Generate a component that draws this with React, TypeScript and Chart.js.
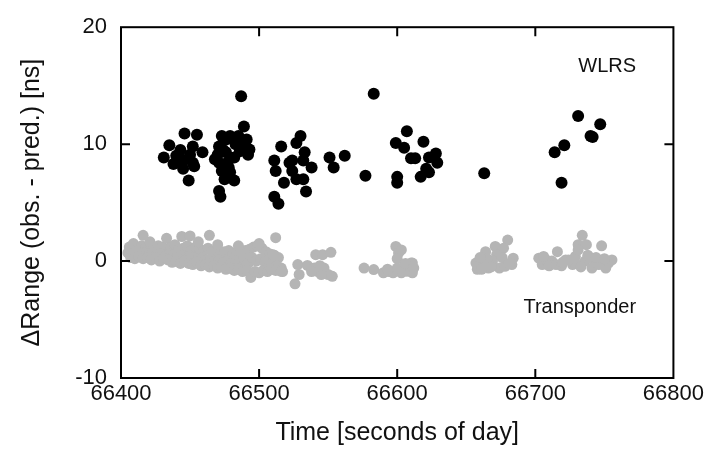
import React, { useEffect, useRef } from "react";
import { Chart, registerables } from "chart.js";

Chart.register(...registerables);

// WLRS (black)
const wlrsTime = [
  66487, 66489, 66446, 66455, 66435, 66452, 66431, 66440, 66445, 66459, 66452, 66445, 66453, 66449, 66450,
  66473, 66479, 66485, 66491, 66493, 66492, 66471, 66470, 66476, 66471, 66477, 66473, 66479, 66475, 66482,
  66482, 66486, 66471, 66472, 66474, 66478, 66468, 66483, 66488, 66476, 66443, 66438,
  66516, 66511, 66512, 66511, 66514, 66527, 66522, 66518, 66527, 66530, 66533, 66524, 66532, 66538, 66524,
  66532, 66534, 66551, 66562, 66554, 66577, 66583,
  66607, 66599, 66605, 66619, 66610, 66613, 66623, 66628, 66629, 66621, 66623, 66617, 66600, 66600,
  66663, 66714, 66721, 66719, 66731, 66747, 66740, 66741.5,
];
const wlrsRange = [
  14.1, 11.5, 10.9, 10.8, 9.9, 9.8, 8.85, 9.0, 8.6, 9.3, 8.4, 7.9, 8.1, 6.9, 9.1,
  10.7, 10.7, 10.7, 10.4, 9.55, 9.1, 9.8, 9.1, 9.3, 8.4, 8.4, 7.7, 7.6, 7.0, 6.9,
  8.85, 9.4, 6.0, 5.5, 9.5, 8.0, 8.7, 10.0, 10.2, 10.4, 9.5, 8.3,
  9.8, 8.6, 7.7, 5.5, 4.9, 10.1, 8.4, 6.7, 7.0, 10.7, 9.3, 8.6, 8.6, 8.0, 7.7,
  7.0, 5.95, 8.85, 9.0, 8.0, 7.3, 14.3,
  11.1, 10.1, 9.7, 10.2, 8.8, 8.8, 8.85, 9.2, 8.4, 7.9, 7.6, 7.2, 7.2, 6.7,
  7.5, 9.3, 9.9, 6.7, 12.4, 11.7, 10.7, 10.6,
];

// Transponder (gray)
const transTime = [
  // cluster 1 top row
  66406, 66409, 66412, 66415, 66418, 66421, 66424, 66427, 66430, 66433, 66436, 66439, 66442, 66445, 66448,
  66451, 66454, 66457, 66460, 66463, 66466, 66469, 66472, 66475, 66478, 66481, 66484, 66487, 66490, 66493,
  66496, 66499, 66502, 66505, 66508, 66511, 66514,
  // cluster 1 middle row
  66405, 66408, 66411, 66414, 66417, 66420, 66423, 66426, 66429, 66432, 66435, 66438, 66441, 66444, 66447,
  66450, 66453, 66456, 66459, 66462, 66465, 66468, 66471, 66474, 66477, 66480, 66483, 66486, 66489, 66492,
  66495, 66498, 66501, 66504, 66507, 66510, 66513, 66516,
  // cluster 1 bottom row
  66407, 66410, 66413, 66416, 66419, 66422, 66425, 66428, 66431, 66434, 66437, 66440, 66443, 66446, 66449,
  66452, 66455, 66458, 66461, 66464, 66467, 66470, 66473, 66476, 66479, 66482, 66485, 66488, 66491, 66494,
  66497, 66500, 66503, 66506, 66509, 66512, 66517,
  // cluster 1 outliers
  66416, 66444, 66450, 66464, 66456, 66512, 66510, 66470, 66485, 66500,
  // cluster 2
  66528, 66535, 66529, 66526, 66541, 66546, 66552, 66542, 66547, 66550, 66553, 66540, 66545, 66544, 66538, 66516,
  // cluster 3
  66576, 66583, 66590, 66594, 66597, 66599, 66601, 66603, 66600, 66603, 66605, 66610, 66607, 66611, 66600,
  66611, 66609, 66593, 66606, 66612,
  // cluster 4
  66657, 66658, 66664, 66671, 66680, 66677, 66672, 66684, 66683, 66666, 66674, 66678, 66662, 66669, 66661,
  66665, 66676, 66668, 66681, 66660,
  // cluster 5
  66702.5, 66705, 66716, 66712, 66722, 66729, 66734, 66731, 66737, 66731, 66727, 66736, 66741, 66741, 66748,
  66753, 66755.5, 66751, 66746, 66729, 66724, 66708, 66710, 66715, 66719, 66733, 66738, 66744, 66750, 66706, 66720,
];
const transRange = [
  1.2, 1.5, 1.1, 1.3, 1.2, 1.65, 1.1, 1.3, 1.2, 1.95, 1.2, 1.4, 1.0, 1.1, 1.3,
  0.9, 1.2, 1.0, 0.9, 1.1, 0.8, 0.9, 0.7, 0.8, 0.9, 0.6, 0.8, 0.7, 0.9, 1.0,
  1.2, 1.3, 1.1, 0.8, 0.6, 0.5, 0.3,
  0.7, 0.6, 0.8, 0.5, 0.7, 0.6, 0.7, 0.5, 0.6, 0.4, 0.6, 0.5, 0.4, 0.5, 0.3,
  0.4, 0.3, 0.2, 0.3, 0.1, 0.2, 0.0, 0.1, -0.1, 0.0, -0.2, 0.0, -0.1, 0.2, -0.2,
  0.3, 0.0, 0.2, -0.1, 0.1, -0.2, -0.4, -0.6,
  0.3, 0.2, 0.4, 0.2, 0.3, 0.1, 0.3, 0.0, 0.2, 0.1, -0.1, 0.0, -0.2, 0.0, -0.2,
  -0.3, -0.1, -0.4, -0.3, -0.5, -0.4, -0.6, -0.5, -0.7, -0.6, -0.8, -0.7, -0.9, -0.8, -1.4,
  -0.9, -1.0, -0.8, -0.9, -0.7, -0.8, -0.9,
  2.2, 2.1, 2.15, 2.2, 1.65, 2.0, 0.55, 1.4, 1.3, 1.5,
  -0.3, -0.37, -1.15, -1.95, 0.55, 0.55, 0.75, -0.87, -0.6, -1.15, -1.3, -0.6, -1.15, -0.4, -0.9, -0.87,
  -0.6, -0.73, -1.0, -0.9, -1.0, 1.25, 0.7, 0.95, 0.2, -1.0, -0.45, -0.17, -0.87, -1.0, -0.6,
  -0.17, -0.5, -0.7, -0.2, -0.6,
  -0.17, -0.7, 0.8, 1.25, 1.8, 1.1, 0.55, 0.25, -0.3, -0.6, -0.6, -0.45, -0.3, 0.0, -0.7,
  0.2, 0.3, -0.5, -0.2, 0.3,
  0.25, -0.3, 0.8, 0.0, 0.1, 0.4, 2.2, 1.4, 1.4, 0.95, -0.3, 0.0, 0.25, -0.6, 1.3,
  -0.17, 0.1, -0.6, -0.3, -0.17, 0.1, 0.1, -0.4, -0.3, -0.4, -0.5, 0.5, 0.3, 0.2, 0.4, -0.1,
];

const xMin = 66400;
const xMax = 66800;
const xStep = 100;
const yMin = -10;
const yMax = 20;
const yStep = 10;

const xTitle = "Time [seconds of day]";
const yTitle = "\u0394Range (obs. - pred.) [ns]";

const seriesLabels = [
  { text: "WLRS", x: 66773, y: 16.6 },
  { text: "Transponder", x: 66773, y: -4.0 },
];

const FONT = "'Liberation Sans', Arial, Helvetica, sans-serif";

const framePlugin = {
  id: "frameTicks",
  afterDraw(chart: any) {
    const { ctx, chartArea: a, scales } = chart;
    const xs = scales.x;
    const ys = scales.y;
    const tl = 9;
    ctx.save();
    ctx.strokeStyle = "#000";
    ctx.lineWidth = 2;
    ctx.strokeRect(a.left, a.top, a.right - a.left, a.bottom - a.top);
    ctx.beginPath();
    xs.ticks.forEach((t: any) => {
      const px = xs.getPixelForValue(t.value);
      if (Math.abs(px - a.left) < 2 || Math.abs(px - a.right) < 2) return;
      ctx.moveTo(px, a.bottom);
      ctx.lineTo(px, a.bottom - tl);
      ctx.moveTo(px, a.top);
      ctx.lineTo(px, a.top + tl);
    });
    ys.ticks.forEach((t: any) => {
      const py = ys.getPixelForValue(t.value);
      if (Math.abs(py - a.top) < 2 || Math.abs(py - a.bottom) < 2) return;
      ctx.moveTo(a.left, py);
      ctx.lineTo(a.left + tl, py);
      ctx.moveTo(a.right, py);
      ctx.lineTo(a.right - tl, py);
    });
    ctx.stroke();
    ctx.fillStyle = "#111";
    ctx.font = `20px ${FONT}`;
    ctx.textAlign = "right";
    ctx.textBaseline = "middle";
    seriesLabels.forEach((l) => {
      ctx.fillText(l.text, xs.getPixelForValue(l.x), ys.getPixelForValue(l.y));
    });
    ctx.restore();
  },
};

export default function App() {
  const ref = useRef<HTMLCanvasElement | null>(null);
  useEffect(() => {
    document.body.style.margin = "0";
    if (!ref.current) return;
    const chart = new Chart(ref.current, {
      type: "scatter",
      data: {
        datasets: [
          {
            label: "Transponder",
            data: transTime.map((t, i) => ({ x: t, y: transRange[i] })),
            backgroundColor: "#b5b5b5",
            borderWidth: 0,
            pointRadius: 5.5,
          },
          {
            label: "WLRS",
            data: wlrsTime.map((t, i) => ({ x: t, y: wlrsRange[i] })),
            backgroundColor: "#000",
            borderWidth: 0,
            pointRadius: 6,
          },
        ],
      },
      options: {
        animation: false,
        responsive: true,
        maintainAspectRatio: false,
        layout: { padding: { left: 0, top: 23, right: 32, bottom: 0 } },
        plugins: { legend: { display: false }, tooltip: { enabled: false } },
        scales: {
          x: {
            type: "linear",
            min: xMin,
            max: xMax,
            grid: { display: false, drawTicks: false },
            border: { display: false },
            ticks: {
              stepSize: xStep,
              padding: 3,
              color: "#111",
              font: { family: FONT, size: 22 },
              callback: (v: any) => String(v),
              maxRotation: 0,
            },
            title: {
              display: true,
              text: xTitle,
              color: "#111",
              font: { family: FONT, size: 25 },
              padding: { top: 0, bottom: 2 },
            },
            afterFit: (s: any) => {
              s.height = 72;
            },
          },
          y: {
            type: "linear",
            min: yMin,
            max: yMax,
            grid: { display: false, drawTicks: false },
            border: { display: false },
            ticks: {
              stepSize: yStep,
              padding: 14,
              color: "#111",
              font: { family: FONT, size: 22 },
            },
            title: {
              display: true,
              text: yTitle,
              color: "#111",
              font: { family: FONT, size: 25 },
              padding: { top: 17, bottom: 0 },
            },
            afterFit: (s: any) => {
              s.width = 121;
            },
          },
        },
      },
      plugins: [framePlugin],
    });
    return () => chart.destroy();
  }, []);
  return (
    <div style={{ position: "fixed", left: 0, top: 0, width: 707, height: 450, background: "#fff" }}>
      <canvas ref={ref} />
    </div>
  );
}
